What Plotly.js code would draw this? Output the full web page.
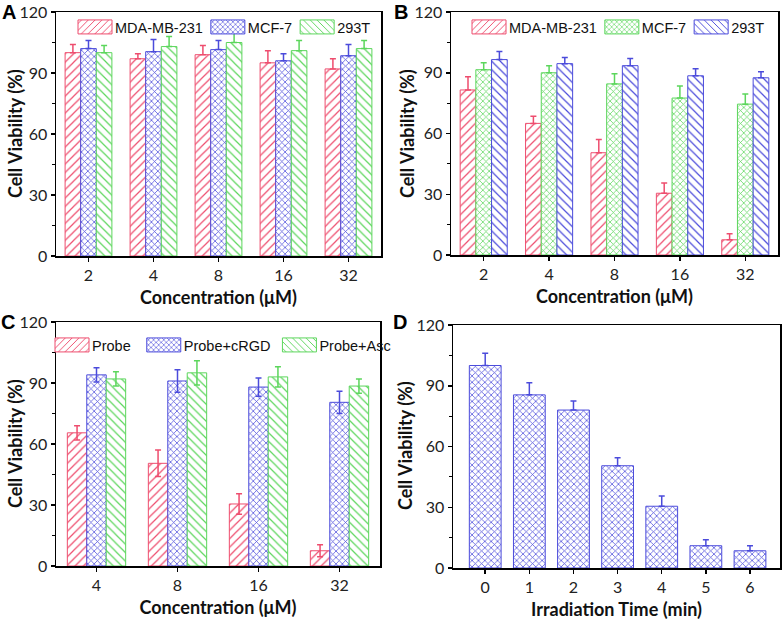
<!DOCTYPE html>
<html><head><meta charset="utf-8">
<script src="https://cdn.plot.ly/plotly-3.0.1.min.js"></script>
<style>body{margin:0;background:#fff}</style>
</head><body><div id="chart" style="width:784px;height:621px"></div>
<script>
// ---- data ----
const concAB = ['2', '4', '8', '16', '32'];
const concC = ['4', '8', '16', '32'];
const timeD = [0, 1, 2, 3, 4, 5, 6];

const aMDA = [100, 97, 99, 95, 92];
const aMDAerr = [4, 2.5, 4.5, 6, 5];
const aMCF = [102, 100.5, 101.5, 96, 98.5];
const aMCFerr = [4, 6, 4.5, 3.5, 5.5];
const a293 = [100, 103, 105, 101, 102];
const a293err = [3.5, 5, 4.5, 5, 4];

const bMDA = [81.5, 65, 50.5, 30.5, 7.5];
const bMDAerr = [6.5, 3.5, 6.5, 5, 3];
const bMCF = [91.5, 90, 84.5, 77.5, 74.5];
const bMCFerr = [3.5, 3.5, 5, 6, 5];
const b293 = [96.5, 94.5, 93.5, 88.5, 87.5];
const b293err = [4, 3, 3.5, 3.5, 3];

const cProbe = [65.5, 50.5, 30.5, 7.5];
const cProbeErr = [3.5, 6.5, 5, 3];
const cRGD = [94, 91, 88, 80.5];
const cRGDerr = [3.5, 5.5, 4.5, 5.5];
const cAsc = [92, 95, 93, 88.5];
const cAscErr = [3.5, 6, 5, 3.5];

const dViab = [100, 85.5, 78, 50.5, 30.5, 11, 8.5];
const dErr = [6, 6, 4.5, 4, 5, 3, 2.5];

// ---- styles ----
const RED = '#ee4d6e', BLUE = '#4b4bdb', GREEN = '#5cd65c';
const NB = '\u00a0';

function bar(x, y, err, name, color, shape, xa, ya, legend, sym) {
  return {
    type: 'bar', x: x, y: y, name: name, xaxis: xa, yaxis: ya,
    legend: legend || 'legend', showlegend: !!legend,
    marker: {
      color: 'white', line: { color: color, width: 1 },
      pattern: { shape: shape, fgcolor: color, bgcolor: 'white',
                 size: shape === 'x' ? 4.5 : 6, solidity: shape === 'x' ? 0.3 : 0.2 }
    },
    error_y: sym ? { type: 'data', array: err, symmetric: true, color: color, thickness: 1.5, width: 3 }
                 : { type: 'data', array: err, arrayminus: err.map(() => 0), symmetric: false,
                     color: color, thickness: 1.5, width: 3 },
    hoverinfo: 'skip'
  };
}

const traces = [
  bar(concAB, aMDA, aMDAerr, 'MDA-MB-231', RED, '/', 'x', 'y', 'legend'),
  bar(concAB, aMCF, aMCFerr, 'MCF-7', BLUE, 'x', 'x', 'y', 'legend'),
  bar(concAB, a293, a293err, '293T', GREEN, '\\', 'x', 'y', 'legend'),
  bar(concAB, bMDA, bMDAerr, 'MDA-MB-231', RED, '/', 'x2', 'y2', 'legend2'),
  bar(concAB, bMCF, bMCFerr, 'MCF-7', GREEN, 'x', 'x2', 'y2', 'legend2'),
  bar(concAB, b293, b293err, '293T', BLUE, '\\', 'x2', 'y2', 'legend2'),
  bar(concC, cProbe, cProbeErr, 'Probe' + NB + NB, RED, '/', 'x3', 'y3', 'legend3', true),
  bar(concC, cRGD, cRGDerr, 'Probe+cRGD' + NB, BLUE, 'x', 'x3', 'y3', 'legend3', true),
  bar(concC, cAsc, cAscErr, 'Probe+Asc', GREEN, '\\', 'x3', 'y3', 'legend3', true),
  bar(timeD, dViab, dErr, 'Irradiation', BLUE, 'x', 'x4', 'y4', null)
];

const W = 784, H = 621;
const px = v => v / W, py = v => 1 - v / H;

const tickFont = { family: 'Lato, Open Sans, sans-serif', size: 16, color: '#222' };
const titleFont = { family: 'Lato, Open Sans, sans-serif', size: 18, color: '#111' };

function yAx(anchor, top, bottom) {
  return {
    anchor: anchor, domain: [py(bottom), py(top)], range: [0, 120],
    tick0: 0, dtick: 30, ticks: 'outside', ticklen: 4, tickwidth: 1.5, tickcolor: '#000',
    minor: { dtick: 15, tick0: 0, ticks: 'outside', ticklen: 3, tickwidth: 1.2, tickcolor: '#000', showgrid: false },
    showline: true, linewidth: 1.5, linecolor: '#000', mirror: true,
    showgrid: false, zeroline: false, tickfont: tickFont,
    automargin: false, fixedrange: true
  };
}
function xAx(anchor, left, right, range, title, type) {
  return {
    anchor: anchor, domain: [px(left), px(right)], range: range, type: type,
    ticks: 'outside', ticklen: 4, tickwidth: 1.5, tickcolor: '#000',
    showline: true, linewidth: 1.5, linecolor: '#000', mirror: true,
    showgrid: false, zeroline: false, tickfont: tickFont,
    title: { text: '<b>' + title + '</b>', font: titleFont, standoff: 8 },
    automargin: false, fixedrange: true
  };
}

const legFont = { family: 'Liberation Sans, Arial, sans-serif', size: 14.5, color: '#111' };
function leg(xp, yp) {
  return { x: px(xp), xanchor: 'left', y: py(yp), yanchor: 'top', orientation: 'h',
           bgcolor: 'rgba(0,0,0,0)', font: legFont, itemwidth: 30, tracegroupgap: 0,
           itemclick: false, itemdoubleclick: false };
}

const xD = xAx('y4', 453, 780, [-0.73, 6.68], 'Irradiation Time (min)', 'linear');
xD.tickvals = timeD;

const letters = [['A', 9, 12], ['B', 401, 12], ['C', 8, 322], ['D', 400, 322]]
  .map(a => ({ text: '<b>' + a[0] + '</b>', x: px(a[1]), y: py(a[2]), xref: 'paper', yref: 'paper',
               xanchor: 'center', yanchor: 'middle', showarrow: false,
               font: { family: 'Liberation Sans, Arial, sans-serif', size: 20, color: '#000' } }));
const yTitles = [[15, 134], [407, 134], [15, 444], [405, 446]]
  .map(a => ({ text: '<b>Cell Viability (%)</b>', x: px(a[0]), y: py(a[1]), xref: 'paper', yref: 'paper',
               xanchor: 'center', yanchor: 'middle', textangle: -90, showarrow: false, font: titleFont }));

const layout = {
  width: W, height: H, margin: { l: 0, r: 0, t: 0, b: 0 },
  paper_bgcolor: 'white', plot_bgcolor: 'white',
  barmode: 'group', bargap: 0.28, bargroupgap: 0,
  showlegend: true,
  xaxis: xAx('y', 56, 381, [-0.5, 4.5], 'Concentration (\u03bcM)', 'category'),
  yaxis: yAx('x', 12, 256),
  xaxis2: xAx('y2', 451, 778, [-0.5, 4.5], 'Concentration (\u03bcM)', 'category'),
  yaxis2: yAx('x2', 12, 255),
  xaxis3: xAx('y3', 56, 380, [-0.5, 3.5], 'Concentration (\u03bcM)', 'category'),
  yaxis3: yAx('x3', 322, 566),
  xaxis4: xD,
  yaxis4: yAx('x4', 325, 568),
  legend: leg(75, 11),
  legend2: leg(469, 11),
  legend3: leg(52, 329),
  annotations: letters.concat(yTitles)
};

function fixLegend() {
  document.querySelectorAll('.legendpoints path').forEach(p => {
    p.setAttribute('d', 'M17,7H-17V-7H17Z');
  });
}

const gd = document.getElementById('chart');
Plotly.newPlot(gd, traces, layout, { staticPlot: true, displayModeBar: false }).then(() => {
  fixLegend();
  gd.on && gd.on('plotly_afterplot', fixLegend);
});
</script>
</body></html>
